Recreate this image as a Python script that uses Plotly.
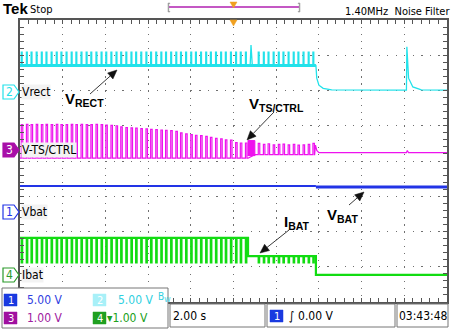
import plotly.graph_objects as go

W, H = 455, 329
# graticule box in pixels (layout only)
GX0, GX1, GY0, GY1 = 20, 447, 20, 302

# ---------------- data (screen divisions: time 0..10 div, vertical -4..4 div) ----------------
# switching pulses while charging (shared timing of the CTRL pulses)
PULSE_T_EARLY = [0.03, 0.15, 0.26, 0.38, 0.50, 0.61, 0.73, 0.85, 0.96, 1.08, 1.20, 1.31, 1.43,
                 1.55, 1.66, 1.78, 1.90, 2.01, 2.13, 2.25, 2.36, 2.48, 2.60, 2.71, 2.83, 2.95,
                 3.06, 3.18, 3.30, 3.41, 3.53, 3.65, 3.76, 3.88, 4.00, 4.11, 4.23, 4.35, 4.46,
                 4.58, 4.70, 4.81, 4.93, 5.05, 5.16, 5.28]
PULSE_T_LATE = [5.58, 5.70, 5.81, 5.93, 6.05, 6.16, 6.28, 6.40, 6.51, 6.63, 6.75, 6.86]

# CH3 V-TS/CTRL pulse tops (div)
CTRL_TOP_EARLY = [1.03, 1.04, 1.03, 1.04, 1.03, 1.04, 1.03, 1.04, 1.03, 1.03, 1.04, 1.03, 1.04,
                  1.03, 1.03, 1.04, 1.03, 1.02, 1.01, 1.00, 0.97, 0.95, 0.94, 0.93, 0.92, 0.91,
                  0.90, 0.89, 0.88, 0.87, 0.86, 0.84, 0.80, 0.77, 0.75, 0.73, 0.72, 0.70, 0.67,
                  0.64, 0.63, 0.60, 0.59, 0.52, 0.51, 0.51]
CTRL_TOP_LATE = [0.50, 0.47, 0.49, 0.46, 0.47, 0.48, 0.46, 0.47, 0.45, 0.46, 0.47, 0.50]
CTRL_BASE_EARLY, CTRL_BASE_LATE = 0.08, 0.18
CTRL_BLOCK_T = [5.34, 5.34, 5.50, 5.50]
CTRL_BLOCK_V = [0.14, 0.58, 0.58, 0.14]
CTRL_TAIL_T = [6.90, 6.92, 6.95, 7.00, 9.05, 9.07, 9.10, 10.0]
CTRL_TAIL_V = [0.18, 0.45, 0.30, 0.235, 0.235, 0.30, 0.235, 0.235]

# CH2 Vrect
VRECT_BASE, VRECT_HI = 2.71, 3.09
VRECT_GLITCH_T = [5.39, 5.41, 5.44]
VRECT_GLITCH_V = [2.71, 3.29, 2.71]
VRECT_TAIL_T = [6.93, 6.95, 7.00, 7.10, 7.30, 9.05, 9.06, 9.10, 9.20, 9.40, 10.0]
VRECT_TAIL_V = [2.71, 2.35, 2.15, 2.06, 2.02, 2.01, 3.24, 2.35, 2.10, 2.02, 2.01]

# CH1 Vbat
VBAT_T = [0.0, 6.93, 6.93, 10.0]
VBAT_V = [-0.71, -0.71, -0.74, -0.74]

# CH4 Ibat
IBAT_HI_EARLY, IBAT_HI_LATE, IBAT_LOW, IBAT_END = -2.18, -2.70, -2.89, -3.23
IBAT_STEP_T = 5.34
IBAT_END_T = 6.93

CYAN, MAG, BLUE, GREEN = "#22e2ea", "#ee12ee", "#2234e6", "#12dc12"
NARROW = "Liberation Sans Narrow, DejaVu Sans Condensed, Arial Narrow, sans-serif"
BOLD = "Liberation Sans, Arial, sans-serif"


def comb(times, width, base, tops):
    xs, ys = [], []
    for t, top in zip(times, tops):
        xs += [t, t, t + width, t + width]
        ys += [base, top, top, base]
    return xs, ys


fig = go.Figure()

# CH2 Vrect (thick noisy baseline + thin pulses)
ex, ey = comb(PULSE_T_EARLY, 0.02, VRECT_BASE, [VRECT_HI] * len(PULSE_T_EARLY))
lx, ly = comb(PULSE_T_LATE, 0.02, VRECT_BASE, [VRECT_HI] * len(PULSE_T_LATE))
fig.add_trace(go.Scatter(x=[0, IBAT_END_T], y=[VRECT_BASE, VRECT_BASE], mode="lines",
                         line=dict(color=CYAN, width=3)))
fig.add_trace(go.Scatter(x=[0] + ex + VRECT_GLITCH_T + lx + VRECT_TAIL_T,
                         y=[VRECT_BASE] + ey + VRECT_GLITCH_V + ly + VRECT_TAIL_V,
                         mode="lines", line=dict(color=CYAN, width=1.3)))

# CH3 V-TS/CTRL
ex, ey = comb(PULSE_T_EARLY, 0.035, CTRL_BASE_EARLY, CTRL_TOP_EARLY)
lx, ly = comb(PULSE_T_LATE, 0.035, CTRL_BASE_LATE, CTRL_TOP_LATE)
fig.add_trace(go.Scatter(x=[0] + ex + [CTRL_BLOCK_T[0]] + [CTRL_BLOCK_T[-1]] + lx + CTRL_TAIL_T,
                         y=[CTRL_BASE_EARLY] + ey + [CTRL_BASE_EARLY] + [CTRL_BASE_LATE] + ly + CTRL_TAIL_V,
                         mode="lines", line=dict(color=MAG, width=1.2)))
fig.add_trace(go.Scatter(x=CTRL_BLOCK_T, y=CTRL_BLOCK_V, mode="lines", fill="toself",
                         fillcolor=MAG, line=dict(color=MAG, width=1)))

# CH1 Vbat
fig.add_trace(go.Scatter(x=VBAT_T[:2], y=VBAT_V[:2], mode="lines", line=dict(color=BLUE, width=2)))
fig.add_trace(go.Scatter(x=VBAT_T[2:], y=VBAT_V[2:], mode="lines", line=dict(color=BLUE, width=3)))

# CH4 Ibat
ex, ey = comb(PULSE_T_EARLY, 0.03, IBAT_HI_EARLY, [IBAT_LOW] * len(PULSE_T_EARLY))
lx, ly = comb(PULSE_T_LATE, 0.03, IBAT_HI_LATE, [IBAT_LOW] * len(PULSE_T_LATE))
fig.add_trace(go.Scatter(x=[0] + ex + [IBAT_STEP_T, IBAT_STEP_T] + lx + [IBAT_END_T, IBAT_END_T, 10.0],
                         y=[IBAT_HI_EARLY] + ey + [IBAT_HI_EARLY, IBAT_HI_LATE] + ly
                           + [IBAT_HI_LATE, IBAT_END, IBAT_END],
                         mode="lines", line=dict(color=GREEN, width=1.4)))
fig.add_trace(go.Scatter(x=[0, IBAT_STEP_T, IBAT_STEP_T, IBAT_END_T, IBAT_END_T, 10.0],
                         y=[IBAT_HI_EARLY, IBAT_HI_EARLY, IBAT_HI_LATE, IBAT_HI_LATE, IBAT_END, IBAT_END],
                         mode="lines", line=dict(color=GREEN, width=2.2)))

# ---------------- layout ----------------
GRID = "#707070"
FRAME = "#555555"
fig.update_layout(
    width=W, height=H, margin=dict(l=0, r=0, t=0, b=0),
    paper_bgcolor="white", plot_bgcolor="white", showlegend=False,
    xaxis=dict(domain=[GX0 / W, GX1 / W], range=[0, 10], dtick=1, tick0=0,
               showgrid=True, gridcolor=GRID, gridwidth=1.2, griddash="1.2px,5.85px",
               zeroline=False, showticklabels=False, ticks="inside", ticklen=4,
               tickcolor=FRAME, showline=True, linecolor=FRAME, linewidth=1.5, mirror="ticks",
               minor=dict(dtick=0.2, ticks="inside", ticklen=4, tickcolor=FRAME, showgrid=False),
               fixedrange=True),
    yaxis=dict(domain=[1 - GY1 / H, 1 - GY0 / H], range=[-4, 4], dtick=1, tick0=0,
               showgrid=True, gridcolor=GRID, gridwidth=1.2, griddash="1.2px,7.34px",
               zeroline=False, showticklabels=False, ticks="inside", ticklen=4,
               tickcolor=FRAME, showline=True, linecolor=FRAME, linewidth=1.5, mirror="ticks",
               minor=dict(dtick=0.2, ticks="inside", ticklen=4, tickcolor=FRAME, showgrid=False),
               fixedrange=True),
)


def px(x):
    return x / W


def py(y):
    return 1 - y / H


shapes = []
annots = []


def rect(x0, y0, x1, y1, line="#777", fill="white", lw=1):
    shapes.append(dict(type="rect", xref="paper", yref="paper", x0=px(x0), x1=px(x1),
                       y0=py(y1), y1=py(y0), line=dict(color=line, width=lw),
                       fillcolor=fill, layer="above"))


def path(pts, line, fill, lw=1):
    d = "M " + " L ".join(f"{px(a):.5f},{py(b):.5f}" for a, b in pts) + " Z"
    shapes.append(dict(type="path", xref="paper", yref="paper", path=d,
                       line=dict(color=line, width=lw), fillcolor=fill, layer="above"))


def text(x, y, s, color="black", size=11, family=NARROW, xanchor="left", bg=None):
    annots.append(dict(x=px(x), y=py(y), xref="paper", yref="paper", text=s, showarrow=False,
                       xanchor=xanchor, yanchor="middle", font=dict(color=color, size=size, family=family),
                       bgcolor=bg, borderpad=0))


# channel ground markers + labels
def marker(yc, label, col, filled):
    pts = [(3, yc - 7), (14, yc - 7), (19, yc), (14, yc + 7), (3, yc + 7)]
    path(pts, col, col if filled else "white", 1.2)
    text(9, yc, label, "white" if filled else col, 12, NARROW, "center")


marker(92, "2", CYAN, False)
marker(150, "3", "#a810a8", True)
marker(212, "1", BLUE, False)
marker(275, "4", "#2a9a2a", False)
text(21, 92, "Vrect", "black", 12, NARROW, bg="#f3f3f3")
text(21, 150, "V-TS/CTRL", "black", 12, NARROW, bg="#f3f3f3")
text(21, 212, "Vbat", "black", 12, NARROW, bg="#f3f3f3")
text(21, 275, "Ibat", "black", 12, NARROW, bg="#f3f3f3")

# signal annotations
text(64, 100, "<b>V<sub>RECT</sub></b>", "black", 15, BOLD)
text(248, 104, "<b>V<sub>TS/CTRL</sub></b>", "black", 15, BOLD)
text(326, 215, "<b>V<sub>BAT</sub></b>", "black", 15, BOLD)
text(283, 222, "<b>I<sub>BAT</sub></b>", "black", 15, BOLD)


def arrow(x0, y0, x1, y1):
    # thin line from (x0,y0) to head at (x1,y1), filled arrowhead (pixel coords)
    import math
    dx, dy = x1 - x0, y1 - y0
    L = math.hypot(dx, dy)
    ux, uy = dx / L, dy / L
    hl, hw = 9, 4
    bx, by = x1 - ux * hl, y1 - uy * hl
    shapes.append(dict(type="line", xref="paper", yref="paper", x0=px(x0), y0=py(y0),
                       x1=px(bx), y1=py(by), line=dict(color="#222", width=0.9), layer="above"))
    path([(x1, y1), (bx - uy * hw, by + ux * hw), (bx + uy * hw, by - ux * hw)], "#111", "#111", 0.5)


arrow(90, 94, 117, 70)
arrow(274, 112, 247, 140)
arrow(349, 205, 364, 192)
arrow(289, 230, 260, 253)

# top bar
text(2, 9, "<b>Tek</b>", "black", 15, BOLD)
text(29, 10, "Stop", "black", 11, NARROW)
shapes.append(dict(type="line", xref="paper", yref="paper", x0=px(169), x1=px(299), y0=py(7), y1=py(7),
                   line=dict(color="#b020b0", width=1.5)))
path([(168, 3), (170, 3), (170, 3.5), (168.8, 3.5), (168.8, 11.5), (170, 11.5), (170, 12), (168, 12)], "#999", "#999", 0.5)
path([(298, 3), (300, 3), (300, 12), (298, 12), (298, 11.5), (299.2, 11.5), (299.2, 3.5), (298, 3.5)], "#999", "#999", 0.5)
path([(230, 2), (237, 2), (233.5, 8)], "#f0a020", "#f0a020", 0.5)
path([(230, 20), (237, 20), (233.5, 26)], "#f0a020", "#f0a020", 0.5)
text(344, 11, "1.40MHz  Noise Filter", "black", 11, NARROW)

# bottom readouts
rect(2, 288, 168, 328, "#777", "white", 1)
rect(170, 304, 265, 327, "#777", "white", 1)
rect(267, 304, 395, 327, "#777", "white", 1)
rect(397, 304, 448, 327, "#777", "white", 1)


def badge(x0, yc, label, fill):
    rect(x0, yc - 6, x0 + 13, yc + 6, fill, fill, 0.5)
    text(x0 + 6.5, yc, label, "white", 11, NARROW, "center")


badge(4, 300, "1", "#1a3ae0")
text(26, 300, "5.00 V", "#3040e0", 12)
badge(93, 300, "2", "#a8f0f8")
text(117, 300, "5.00 V", "#30d0e0", 12)
text(157, 297, "B<sub>W</sub>", "#30d0e0", 10)
badge(4, 318, "3", "#a010a0")
text(26, 318, "1.00 V", "#a020a0", 12)
badge(93, 318, "4", "#20a020")
text(106, 318, "▾1.00 V", "#20a020", 12)
text(172, 316, "2.00 s", "black", 12)
badge(270, 316, "1", "#1a3ae0")
text(288, 316, "∫ 0.00 V", "black", 12)
text(398, 316, "03:43:48", "black", 12)

fig.update_layout(shapes=shapes, annotations=annots)
fig.write_html("out.html")
